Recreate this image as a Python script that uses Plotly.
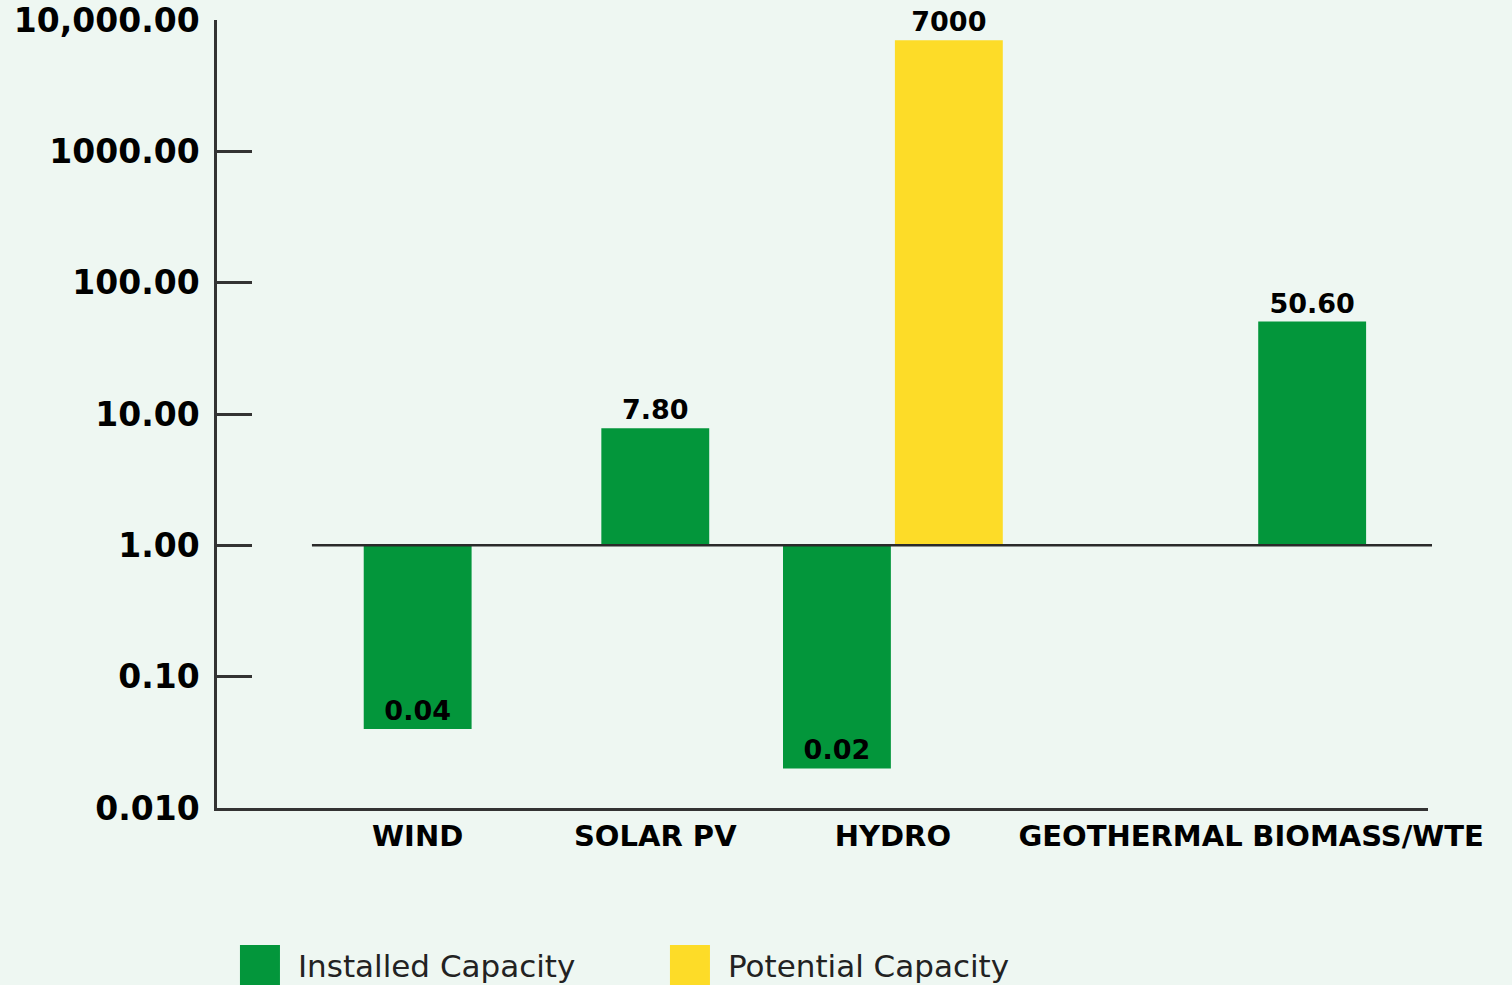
import math
import plotly.graph_objects as go

# ---------------- data ----------------
categories = ["WIND", "SOLAR PV", "HYDRO", "GEOTHERMAL", "BIOMASS/WTE"]
installed = [0.04, 7.80, 0.02, None, 50.60]
potential = [None, None, 7000, None, None]
installed_labels = ["0.04", "7.80", "0.02", "", "50.60"]
potential_labels = ["", "", "7000", "", ""]
tick_values = [0.01, 0.1, 1, 10, 100, 1000, 10000]
tick_labels = ["0.010", "0.10", "1.00", "10.00", "100.00", "1000.00", "10,000.00"]
baseline = 1.0

# ---------------- style ----------------
GREEN = "#03963B"
YELLOW = "#FDDC28"
BG = "#EEF7F2"
AXIS = "#333333"
BOLD = "DejaVu Sans"
BAR_W = 0.454
GAP = 0.017
Y_RANGE = [-2, 4]
X_RANGE = [-0.8445, 4.252]
green_slot = ["center", "center", "left", "center", "left"]

green_offset = [-BAR_W / 2 if s == "center" else -BAR_W - GAP / 2 for s in green_slot]
yellow_offset = [GAP / 2] * len(categories)


def rel(vals):
    return [None if v is None else v - baseline for v in vals]


def positions(vals):
    out = []
    for v in vals:
        if v is None:
            out.append("none")
        elif v < baseline:
            out.append("inside")
        else:
            out.append("outside")
    return out


fig = go.Figure()
fig.add_trace(go.Bar(
    name="Installed Capacity",
    x=categories, y=rel(installed), base=baseline,
    width=BAR_W, offset=green_offset,
    marker=dict(color=GREEN, line=dict(width=0)),
    text=installed_labels, textposition=positions(installed),
    insidetextanchor="end", textangle=0, constraintext="none",
    textfont=dict(family=BOLD, size=27, color="#000000", weight="bold"),
    cliponaxis=False, hoverinfo="skip",
))
fig.add_trace(go.Bar(
    name="Potential Capacity",
    x=categories, y=rel(potential), base=baseline,
    width=BAR_W, offset=yellow_offset,
    marker=dict(color=YELLOW, line=dict(width=0)),
    text=potential_labels, textposition=positions(potential),
    textangle=0, constraintext="none",
    textfont=dict(family=BOLD, size=27, color="#000000", weight="bold"),
    cliponaxis=False, hoverinfo="skip",
))

base_paper = (math.log10(baseline) - Y_RANGE[0]) / (Y_RANGE[1] - Y_RANGE[0])
fig.add_shape(type="line", xref="paper", yref="paper",
              x0=0.0784, x1=1.0033, y0=base_paper, y1=base_paper,
              line=dict(color="#2a2a2a", width=2.5), layer="above")

fig.update_layout(
    width=1512, height=985,
    margin=dict(l=217, r=84, t=20, b=177, autoexpand=False),
    paper_bgcolor=BG, plot_bgcolor=BG,
    barmode="overlay",
    showlegend=True,
    legend=dict(orientation="h", xref="container", yref="container",
                x=0.1468, y=0.02, xanchor="left", yanchor="middle",
                font=dict(family="DejaVu Sans", size=31, color="#222222"),
                bgcolor="rgba(0,0,0,0)", itemwidth=66,
                entrywidth=349, entrywidthmode="pixels",
                traceorder="normal"),
    xaxis=dict(type="category", range=X_RANGE, automargin=False,
               showline=True, linecolor=AXIS, linewidth=2.5,
               ticks="", showgrid=False, zeroline=False,
               tickfont=dict(family=BOLD, size=29, color="#000000", weight="bold"),
               ticklabelstandoff=0),
    yaxis=dict(type="log", range=Y_RANGE, automargin=False,
               tickvals=tick_values, ticktext=tick_labels,
               showline=True, linecolor=AXIS, linewidth=2.5,
               ticks="inside", ticklen=35, tickwidth=2.5, tickcolor=AXIS,
               showgrid=False, zeroline=False,
               tickfont=dict(family=BOLD, size=33, color="#000000", weight="bold"),
               ticklabelstandoff=8),
    hovermode=False,
)

post = """
document.body.style.margin='0';
document.body.style.overflow='hidden';
var gd=document.getElementById('{plot_id}');
function fixLegend(){
  document.querySelectorAll('.legendpoints path').forEach(function(p){
    if (p.getAttribute('data-scaled')) return;
    var t = p.getAttribute('transform') || '';
    p.setAttribute('transform', t + ' scale(3.333)');
    p.setAttribute('data-scaled', '1');
  });
  document.querySelectorAll('.legend .scrollbox').forEach(function(g){
    g.removeAttribute('clip-path');
  });
  document.querySelectorAll('.legend').forEach(function(g){
    g.style.overflow='visible';
  });
}
fixLegend();
gd.on('plotly_afterplot', fixLegend);
"""

fig.write_html("out.html", post_script=post, config={"displayModeBar": False})
